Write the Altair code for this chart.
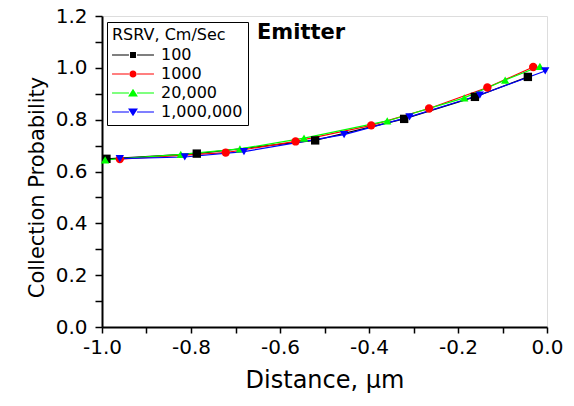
import altair as alt
import pandas as pd

# ---- data ----
series_names = ["100", "1000", "20,000", "1,000,000"]
series_colors = ["#000000", "#ff0000", "#00ff00", "#0000ff"]
series_shapes = ["square", "circle", "triangle-up", "triangle-down"]

x_100 = [-0.99, -0.787, -0.521, -0.321, -0.162, -0.043]
y_100 = [0.649, 0.669, 0.720, 0.803, 0.888, 0.965]

x_1000 = [-0.96, -0.722, -0.565, -0.395, -0.265, -0.134, -0.031]
y_1000 = [0.648, 0.673, 0.716, 0.778, 0.843, 0.924, 1.003]

x_20000 = [-0.993, -0.823, -0.69, -0.546, -0.359, -0.186, -0.094, -0.016]
y_20000 = [0.645, 0.666, 0.687, 0.729, 0.795, 0.884, 0.953, 1.006]

x_1e6 = [-0.96, -0.814, -0.681, -0.456, -0.309, -0.151, -0.004]
y_1e6 = [0.650, 0.656, 0.677, 0.742, 0.811, 0.895, 0.988]

x_ticks = [-1.0, -0.9, -0.8, -0.7, -0.6, -0.5, -0.4, -0.3, -0.2, -0.1, 0.0]
y_ticks = [0.0, 0.1, 0.2, 0.3, 0.4, 0.5, 0.6, 0.7, 0.8, 0.9, 1.0, 1.1, 1.2]

annotation = ["Emitter"]

rows = []
for name, xs, ys in zip(series_names, [x_100, x_1000, x_20000, x_1e6],
                        [y_100, y_1000, y_20000, y_1e6]):
    for xv, yv in zip(xs, ys):
        rows.append({"series": name, "distance": xv, "prob": yv})
df = pd.DataFrame(rows)

# legend symbols: line - marker - line (custom paths, scaled by r = sqrt(size)/2 = 9)
lw = 0.06
seg = f"M-2.33,-{lw}H-0.45V{lw}H-2.33Z M0.45,-{lw}H2.33V{lw}H0.45Z "
legend_paths = [
    seg + "M-0.33,-0.33H0.33V0.33H-0.33Z",
    seg + "M-0.4,0A0.4,0.4 0 1,0 0.4,0A0.4,0.4 0 1,0 -0.4,0Z",
    seg + "M0,-0.46L0.55,0.38L-0.55,0.38Z",
    seg + "M0,0.46L0.55,-0.38L-0.55,-0.38Z",
]

FONT = "DejaVu Sans"
label_expr = ("round(datum.value*10) % 2 == 0 ? "
              "(datum.value < -0.001 ? '-' + format(-datum.value, '.1f') : format(abs(datum.value), '.1f')) : ''")

x_enc = alt.X(
    "distance:Q",
    scale=alt.Scale(domain=[-1.0, 0.0], nice=False, zero=False),
    axis=alt.Axis(
        values=x_ticks, labelExpr=label_expr, title="Distance, µm",
        grid=False, tickSize=6, tickColor="black", domainColor="black",
        domainWidth=2, tickWidth=1.5, labelFont=FONT, labelFontSize=20,
        labelColor="black", labelFlush=False, labelOverlap=False,
        labelPadding=4, titleFont=FONT, titleFontSize=24,
        titleFontWeight="normal", titleColor="black", titlePadding=11,
    ),
)
y_enc = alt.Y(
    "prob:Q",
    scale=alt.Scale(domain=[0.0, 1.2], nice=False),
    axis=alt.Axis(
        values=y_ticks, labelExpr=label_expr, title="Collection Probability",
        grid=False, tickSize=7, tickColor="black", domainColor="black",
        domainWidth=2, tickWidth=1.5, labelFont=FONT, labelFontSize=20,
        labelColor="black", labelOverlap=False, labelPadding=8,
        titleFont=FONT, titleFontSize=21, titleFontWeight="normal",
        titleColor="black", titlePadding=8, titleY=171,
    ),
)

base = alt.Chart(df)

lines = base.mark_line(strokeWidth=1.2).encode(
    x=x_enc, y=y_enc,
    color=alt.Color("series:N", scale=alt.Scale(domain=series_names, range=series_colors), legend=None),
)

points = base.mark_point(filled=True, size=70, opacity=1).encode(
    x=x_enc, y=y_enc,
    color=alt.Color("series:N", scale=alt.Scale(domain=series_names, range=series_colors), legend=None),
    shape=alt.Shape("series:N", scale=alt.Scale(domain=series_names, range=series_shapes), legend=None),
)

leg = alt.Legend(
    title="RSRV, Cm/Sec", orient="none", legendX=5, legendY=6,
    padding=5, strokeColor="black", fillColor="white",
    titleFont=FONT, titleFontSize=16, titleFontWeight="normal", titleColor="black",
    titlePadding=3, labelFont=FONT, labelFontSize=16, labelColor="black",
    symbolSize=324, symbolOpacity=1, symbolStrokeWidth=0, symbolOffset=12,
    rowPadding=2, labelOffset=19,
)

legend_layer = base.mark_point(filled=True, opacity=0, size=1).encode(
    x=x_enc, y=y_enc,
    color=alt.Color("series:N", scale=alt.Scale(domain=series_names, range=series_colors), legend=leg),
    shape=alt.Shape("series:N", scale=alt.Scale(domain=series_names, range=legend_paths), legend=leg),
)

label = alt.Chart(pd.DataFrame({"t": annotation})).mark_text(
    font=FONT, fontSize=21, fontWeight="bold", color="black",
    align="left", baseline="middle",
).encode(text="t:N", x=alt.value(155), y=alt.value(17))

chart = alt.layer(lines, points, legend_layer, label).resolve_scale(
    color="independent", shape="independent"
).properties(
    width=445, height=311,
    autosize=alt.AutoSizeParams(type="none"),
    padding={"left": 102, "top": 16, "right": 27, "bottom": 79},
).configure_view(stroke="#808080", strokeWidth=2).configure(background="white")

chart.save("out.html", embed_options={"renderer": "svg", "actions": False})
